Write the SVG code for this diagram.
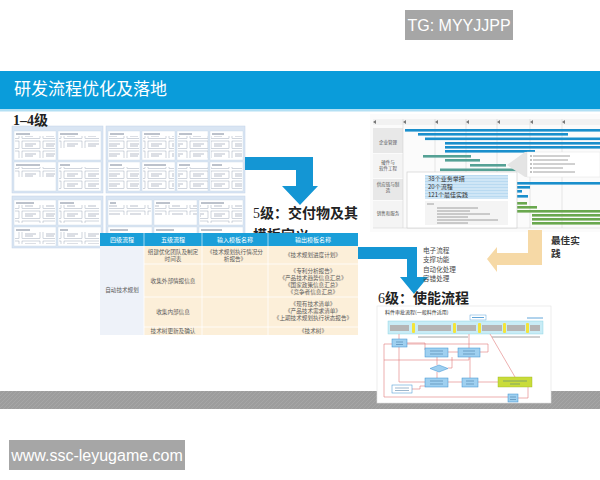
<svg xmlns="http://www.w3.org/2000/svg" width="600" height="480" viewBox="0 0 600 480">
<defs>
<style>
.cjk{font-family:"Noto Sans CJK SC","Noto Sans",sans-serif}
.tb{font-family:"Noto Sans CJK SC",sans-serif;font-size:5.6px;fill:#5a5a5a;text-anchor:middle}
.th{font-family:"Noto Sans CJK SC",sans-serif;font-size:6px;fill:#fff;text-anchor:middle}
.pn{fill:#d9e5f3;stroke:#c3d3e8;stroke-width:0.5}
.sp{fill:#fff;stroke:#c9d6e6;stroke-width:0.4}
.hd{stroke:#7a8598;stroke-width:1}
.bl{fill:#1a8fcc}
.tl{fill:#55a195}
.gr{fill:#6aa84f}
.fb{fill:#9fd0f0;stroke:#3a8fd0;stroke-width:0.5}
.rl{fill:none;stroke:#e07a7a;stroke-width:0.6}
.gl{stroke:#c8c8c8;stroke-width:0.4}
.tx{stroke:#8a8a8a;stroke-width:0.8}
.step{fill:#b5b5b5}
.ya{fill:#f3e43a}
.wm{fill:#a6a6a6}
.wmt{font-family:"Liberation Sans",Arial,sans-serif;font-size:16px;fill:#fff}
.arr{fill:#1496d4}
</style>
<pattern id="mini" x="0" y="0" width="21" height="10" patternUnits="userSpaceOnUse">
<rect x="1" y="1" width="18" height="7.5" fill="#fff" stroke="#8996aa" stroke-width="0.4"/>
<line x1="4" y1="4" x2="15" y2="4" stroke="#9aa4b4" stroke-width="0.7"/>
<line x1="4" y1="6" x2="12" y2="6" stroke="#9aa4b4" stroke-width="0.7"/>
</pattern>
<pattern id="hatch" width="3" height="3" patternUnits="userSpaceOnUse">
<rect width="3" height="3" fill="#cfe6f6"/>
<line x1="0" y1="1.5" x2="3" y2="1.5" stroke="#a9d2ee" stroke-width="0.6"/>
</pattern>
<pattern id="grain" width="4" height="4" patternUnits="userSpaceOnUse">
<rect width="4" height="4" fill="#9d9d9d"/>
<line x1="0" y1="4" x2="4" y2="0" stroke="#a8a8a8" stroke-width="0.8"/>
</pattern>
</defs>

<rect width="600" height="480" fill="#fff"/>

<!-- watermark top -->
<g id="wm-top">
<rect class="wm" x="405" y="10" width="108" height="30"/>
<text class="wmt" x="459" y="31" text-anchor="middle">TG: MYYJJPP</text>
</g>

<!-- title bar -->
<g id="title">
<rect x="0" y="71" width="600" height="38" fill="#0a9cda"/>
<rect x="0" y="109" width="600" height="2.5" fill="#b3e0f4"/>
<text class="cjk" x="14" y="95" font-size="17" fill="#fff">研发流程优化及落地</text>
</g>

<!-- 1-4 level -->
<g id="level14">
<rect class="pn" x="12" y="126" width="91" height="67"/>
<rect class="pn" x="106" y="126" width="139" height="67"/>
<rect class="pn" x="12" y="196" width="91" height="52"/>
<rect class="pn" x="106" y="196" width="139" height="52"/>
<text x="13" y="125" font-family="'Liberation Serif','Noto Sans CJK SC',serif" font-size="14" font-weight="bold" fill="#222">1–4<tspan font-family="'Noto Sans CJK SC',sans-serif">级</tspan></text>
<g>
<rect class="sp" x="14" y="131" width="42" height="29"/><line class="hd" x1="16" y1="134" x2="30" y2="134"/><rect x="15" y="136" width="40" height="22" fill="url(#mini)"/>
<rect class="sp" x="58" y="131" width="43" height="29"/><line class="hd" x1="60" y1="134" x2="78" y2="134"/><rect x="59" y="136" width="40" height="12" fill="url(#mini)"/>
<rect class="sp" x="14" y="162" width="42" height="29"/><line class="hd" x1="16" y1="165" x2="40" y2="165"/><rect x="15" y="167" width="40" height="10" fill="url(#mini)"/>
<rect class="sp" x="58" y="162" width="43" height="29"/><line class="hd" x1="60" y1="165" x2="70" y2="165"/><rect x="59" y="167" width="40" height="22" fill="url(#mini)"/>

<rect class="sp" x="108" y="131" width="32" height="29"/><line class="hd" x1="110" y1="134" x2="124" y2="134"/><rect x="109" y="136" width="30" height="22" fill="url(#mini)"/>
<rect class="sp" x="142" y="131" width="33" height="29"/><line class="hd" x1="144" y1="134" x2="160" y2="134"/><rect x="143" y="136" width="31" height="22" fill="url(#mini)"/>
<rect class="sp" x="177" y="131" width="31" height="29"/><line class="hd" x1="179" y1="134" x2="192" y2="134"/><rect x="178" y="136" width="30" height="22" fill="url(#mini)"/>
<rect class="sp" x="210" y="131" width="33" height="29"/><line class="hd" x1="212" y1="134" x2="224" y2="134"/><rect x="211" y="136" width="31" height="22" fill="url(#mini)"/>
<rect class="sp" x="108" y="162" width="32" height="29"/><line class="hd" x1="110" y1="165" x2="122" y2="165"/><rect x="109" y="167" width="30" height="22" fill="url(#mini)"/>
<rect class="sp" x="142" y="162" width="33" height="29"/><line class="hd" x1="144" y1="165" x2="166" y2="165"/><rect x="143" y="167" width="31" height="22" fill="url(#mini)"/>
<rect class="sp" x="177" y="162" width="31" height="29"/><line class="hd" x1="179" y1="165" x2="190" y2="165"/><rect x="178" y="167" width="30" height="22" fill="url(#mini)"/>
<rect class="sp" x="210" y="162" width="33" height="29"/><line class="hd" x1="212" y1="165" x2="222" y2="165"/><rect x="211" y="167" width="31" height="22" fill="url(#mini)"/>

<rect class="sp" x="14" y="200" width="42" height="25"/><line class="hd" x1="16" y1="203" x2="34" y2="203"/><rect x="15" y="205" width="40" height="18" fill="url(#mini)"/>
<rect class="sp" x="58" y="200" width="43" height="25"/><line class="hd" x1="60" y1="203" x2="74" y2="203"/><rect x="59" y="205" width="40" height="18" fill="url(#mini)"/>
<rect class="sp" x="14" y="227" width="42" height="19"/><line class="hd" x1="16" y1="230" x2="30" y2="230"/><rect x="15" y="232" width="40" height="12" fill="url(#mini)"/>
<rect class="sp" x="58" y="227" width="43" height="19"/><line class="hd" x1="60" y1="230" x2="68" y2="230"/><rect x="59" y="232" width="40" height="12" fill="url(#mini)"/>
<rect class="sp" x="108" y="200" width="44" height="25"/><line class="hd" x1="110" y1="203" x2="116" y2="203"/><rect x="109" y="205" width="42" height="10" fill="url(#mini)"/>
<rect class="sp" x="154" y="200" width="43" height="25"/><line class="hd" x1="156" y1="203" x2="170" y2="203"/><rect x="155" y="205" width="42" height="10" fill="url(#mini)"/>
<rect class="sp" x="199" y="200" width="44" height="25"/><line class="hd" x1="201" y1="203" x2="224" y2="203"/><rect x="200" y="205" width="42" height="18" fill="url(#mini)"/>
<rect class="sp" x="108" y="227" width="44" height="19"/><line class="hd" x1="110" y1="230" x2="128" y2="230"/>
<rect class="sp" x="154" y="227" width="43" height="19"/><line class="hd" x1="156" y1="230" x2="174" y2="230"/>
<rect class="sp" x="199" y="227" width="44" height="19"/><line class="hd" x1="201" y1="230" x2="222" y2="230"/>
</g>
</g>

<!-- arrow 1 -->
<g id="arrow1">
<path class="arr" d="M245,157 H313 V186 H318 L300,205 L282,186 H296 V170 H245 Z"/>
</g>

<!-- level 5 -->
<g id="level5">
<text class="cjk" font-size="14" font-weight="bold" fill="#222"><tspan x="253" y="218"><tspan font-family="'Liberation Serif',serif" font-weight="normal">5</tspan>级：交付物及其</tspan><tspan x="253" y="240">模板定义</tspan></text>
</g>

<!-- table -->
<g id="table">
<rect x="100" y="233" width="258" height="13" fill="#1a9fd9"/>
<line x1="144" y1="233" x2="144" y2="246" stroke="#fff" stroke-width="0.6"/>
<line x1="202" y1="233" x2="202" y2="246" stroke="#fff" stroke-width="0.6"/>
<line x1="268" y1="233" x2="268" y2="246" stroke="#fff" stroke-width="0.6"/>
<text class="th" x="122" y="242">四级流程</text>
<text class="th" x="173" y="242">五级流程</text>
<text class="th" x="235" y="242">输入模板名称</text>
<text class="th" x="313" y="242">输出模板名称</text>
<rect x="100" y="246" width="44" height="89" fill="#eef2f9"/>
<rect x="144" y="246" width="214" height="89" fill="#fcefd9"/>
<g stroke="#fff" stroke-width="0.8">
<line x1="144" y1="246" x2="144" y2="335"/>
<line x1="202" y1="246" x2="202" y2="335"/>
<line x1="268" y1="246" x2="268" y2="335"/>
<line x1="144" y1="264" x2="358" y2="264"/>
<line x1="144" y1="297" x2="358" y2="297"/>
<line x1="144" y1="327" x2="358" y2="327"/>
</g>
<text class="tb" x="122" y="292">自动技术规划</text>
<text class="tb" x="173" y="254">组建优化团队及制定</text>
<text class="tb" x="173" y="261">时间表</text>
<text class="tb" x="235" y="254">《技术规划执行情况分</text>
<text class="tb" x="235" y="261">析报告》</text>
<text class="tb" x="313" y="257">《技术规划进度计划》</text>
<text class="tb" x="173" y="283">收集外部情报信息</text>
<text class="tb" x="313" y="273">《专利分析报告》</text>
<text class="tb" x="313" y="280">《产品技术趋势信息汇总》</text>
<text class="tb" x="313" y="287">《国家政策信息汇总》</text>
<text class="tb" x="313" y="294">《竞争者信息汇总》</text>
<text class="tb" x="173" y="314">收集内部信息</text>
<text class="tb" x="313" y="306">《现有技术清单》</text>
<text class="tb" x="313" y="313">《产品技术需求清单》</text>
<text class="tb" x="313" y="320">《上期技术规划执行状态报告》</text>
<text class="tb" x="173" y="333">技术树更新及确认</text>
<text class="tb" x="313" y="333">《技术树》</text>
</g>

<!-- arrow 2 -->
<g id="arrow2">
<path class="arr" d="M358,247 H417 V277 H428 L414,294 L400,277 H407 V259 H358 Z"/>
<text class="cjk" font-size="6.6" fill="#4a4a4a"><tspan x="423" y="252.5">电子流程</tspan><tspan x="423" y="262">支撑功能</tspan><tspan x="423" y="271.5">自动化处理</tspan><tspan x="423" y="281">容错处理</tspan></text>
</g>

<!-- gantt image -->
<g id="gantt">
<rect x="370" y="114" width="230" height="118" fill="#fbfbfb"/>
<rect x="373" y="119" width="227" height="6" fill="#f2f2f2"/>
<rect x="373" y="128" width="30" height="25" fill="#e8e8e8"/>
<rect x="373" y="154" width="30" height="24" fill="#f4f4f4"/>
<rect x="373" y="179" width="30" height="21" fill="#e8e8e8"/>
<rect x="373" y="201" width="30" height="27" fill="#f4f4f4"/>
<g class="gl">
<line x1="403" y1="119" x2="403" y2="228"/><line x1="435" y1="119" x2="435" y2="228"/>
<line x1="466" y1="119" x2="466" y2="228"/><line x1="497" y1="119" x2="497" y2="228"/>
<line x1="530" y1="119" x2="530" y2="228"/><line x1="562" y1="119" x2="562" y2="228"/>
<line x1="373" y1="228" x2="600" y2="228"/>
</g>
<g fill="#777"><path d="M373,122 l3,-2 v4z"/><path d="M403,122 l3,-2 v4z"/><path d="M435,122 l3,-2 v4z"/><path d="M466,122 l3,-2 v4z"/><path d="M497,122 l3,-2 v4z"/><path d="M530,122 l3,-2 v4z"/><path d="M562,122 l3,-2 v4z"/></g>
<g class="cjk" font-size="4.5" fill="#555" text-anchor="middle">
<text x="388" y="144">企业管理</text>
<text x="388" y="164">硬件与</text><text x="388" y="170">软件工程</text>
<text x="388" y="186">供应链与制</text><text x="388" y="192">造</text>
<text x="388" y="215">销售和服务</text>
</g>
<rect class="bl" x="405" y="129" width="195" height="2.6"/>
<rect class="bl" x="418" y="133" width="150" height="2.6"/>
<rect class="bl" x="425" y="137.5" width="175" height="2.6"/>
<rect class="bl" x="445" y="142" width="155" height="2.6"/>
<rect class="bl" x="445" y="146" width="155" height="2.6"/>
<rect class="bl" x="445" y="150" width="90" height="2.6"/>
<rect class="tl" x="423" y="155" width="48" height="2.6"/>
<rect class="tl" x="445" y="159" width="35" height="2.6"/>
<rect class="tl" x="470" y="164" width="36" height="2.6"/>
<rect class="tl" x="440" y="168.5" width="80" height="2.6"/>
<rect class="bl" x="508" y="182" width="92" height="2.6"/>
<rect class="bl" x="508" y="186" width="22" height="2.6"/>
<rect class="bl" x="508" y="190" width="14" height="2.6"/>
<rect class="bl" x="508" y="195" width="20" height="2.6"/>
<rect class="gr" x="517" y="202" width="10" height="2.6"/>
<rect class="gr" x="517" y="206" width="20" height="2.6"/>
<rect class="gr" x="517" y="210" width="83" height="2.6"/>
<rect class="gr" x="532" y="214" width="68" height="2.6"/>
<rect class="gr" x="532" y="218" width="68" height="2.6"/>
<rect class="gr" x="532" y="222" width="68" height="2.6"/>
<!-- callout -->
<path d="M507,165 L525,152 H600 V177 H525 Z" fill="#e4e4e4"/>
<rect x="527" y="152" width="73" height="25" fill="#fff" stroke="#ddd" stroke-width="0.4"/>
<g fill="#555"><circle cx="531" cy="156" r="0.7"/><circle cx="531" cy="160" r="0.7"/><circle cx="531" cy="164" r="0.7"/><circle cx="531" cy="168" r="0.7"/><circle cx="531" cy="172" r="0.7"/></g>
<g class="tx" stroke-width="0.6"><line x1="533" y1="156" x2="570" y2="156"/><line x1="533" y1="160" x2="568" y2="160"/><line x1="533" y1="164" x2="575" y2="164"/><line x1="533" y1="168" x2="563" y2="168"/><line x1="533" y1="172" x2="575" y2="172"/></g>
<!-- popup -->
<rect x="407" y="172" width="110" height="56" fill="#fff" stroke="#c9c9c9" stroke-width="0.6"/>
<rect x="425" y="175" width="83" height="24" fill="url(#hatch)"/>
<text class="cjk" font-size="6" fill="#333"><tspan x="428" y="181">38个业务举措</tspan><tspan x="428" y="189">20个流程</tspan><tspan x="428" y="197">121个最佳实践</tspan></text>
<rect x="425" y="201" width="83" height="24" fill="#f4f4f4"/>
<line class="tx" x1="427" y1="204" x2="434" y2="204"/>
<g class="tx" stroke-width="0.6"><line x1="437" y1="208" x2="478" y2="208"/><line x1="437" y1="211" x2="470" y2="211"/><line x1="437" y1="214" x2="490" y2="214"/><line x1="437" y1="217" x2="468" y2="217"/><line x1="437" y1="220" x2="498" y2="220"/><line x1="437" y1="223" x2="468" y2="223"/></g>
</g>

<!-- best practice arrow -->
<g id="best">
<path d="M528,230 H542 V265 H497 V272 L487,259 L497,247 V253 H528 Z" fill="#f6d9a6"/>
<text class="cjk" font-size="9.6" font-weight="bold" fill="#333"><tspan x="551" y="243.5">最佳实</tspan><tspan x="551" y="256.5">践</tspan></text>
</g>

<!-- bottom strip -->
<rect x="0" y="391" width="600" height="18" fill="url(#grain)"/>
<text x="507" y="403" font-family="'Liberation Sans',sans-serif" font-size="4.5" fill="#fff">30</text>

<!-- level 6 -->
<g id="level6">
<text class="cjk" x="378" y="303" font-size="14" font-weight="bold" fill="#222"><tspan font-family="'Liberation Serif',serif" font-weight="normal">6</tspan>级：使能流程</text>
<rect x="377" y="306" width="174" height="97" fill="#fff" stroke="#e2e2e2" stroke-width="0.6"/>
<text class="cjk" x="385" y="314" font-size="5" fill="#333">料件审批流程(一般料件适用)</text>
<rect x="470" y="315" width="16" height="5" fill="none" stroke="#3a8fd0" stroke-width="0.4"/>
<line x1="472" y1="317.5" x2="484" y2="317.5" stroke="#3a8fd0" stroke-width="0.8"/>
<line x1="527" y1="318" x2="543" y2="318" stroke="#3a8fd0" stroke-width="0.8"/>
<rect x="388" y="321" width="155" height="13" fill="#c9ecf6" stroke="#7fcfe0" stroke-width="0.4"/>
<rect class="step" x="390" y="325" width="19" height="6"/>
<rect class="step" x="418" y="325" width="33" height="6"/>
<rect class="step" x="457" y="325" width="19" height="6"/>
<rect class="step" x="482" y="325" width="20" height="6"/>
<rect class="step" x="507" y="325" width="18" height="6"/>
<rect class="step" x="530" y="325" width="10" height="6"/>
<g class="ya"><rect x="412" y="323" width="3" height="10" rx="1"/><rect x="453" y="323" width="3" height="10" rx="1"/><rect x="478" y="323" width="3" height="10" rx="1"/><rect x="503" y="323" width="3" height="10" rx="1"/><rect x="526" y="323" width="3" height="10" rx="1"/></g>
<g class="tx" stroke-width="0.5"><line x1="418" y1="337" x2="468" y2="337"/><line x1="492" y1="337" x2="540" y2="337"/></g>
<g class="rl">
<path d="M399,334 V340"/>
<path d="M407,343 H425 V350"/>
<path d="M448,352 H458"/>
<path d="M480,352 H488 V344 H407"/>
<path d="M469,348 V334"/>
<path d="M392,344 H384 V360 H469 V357"/>
<path d="M437,357 V365"/>
<path d="M437,372 V378"/>
<path d="M448,382 H462"/>
<path d="M478,382 H498"/>
<path d="M425,382 H399 V347"/>
<path d="M412,389 H420 V386 H425"/>
<path d="M384,360 V397 H508"/>
<path d="M490,334 L515,377"/>
<path d="M448,368 H452 V357"/>
<path d="M470,378 V357"/>
<path d="M517,398 H528 V387"/>
</g>
<rect class="fb" x="392" y="339" width="15" height="8"/>
<rect class="fb" x="425" y="348" width="23" height="9"/>
<rect class="fb" x="458" y="348" width="22" height="9"/>
<path d="M430,368.5 L439,365 L448,368.5 L439,372 Z" fill="#9fd0f0" stroke="#3a8fd0" stroke-width="0.5"/>
<rect class="fb" x="425" y="378" width="23" height="9"/>
<rect class="fb" x="462" y="378" width="16" height="9"/>
<rect x="498" y="377" width="34" height="10" fill="#c9dc3a" stroke="#9ab21e" stroke-width="0.4"/>
<rect x="392" y="385" width="20" height="8" fill="#fff" stroke="#3a8fd0" stroke-width="0.5"/>
<rect class="fb" x="508" y="394" width="10" height="8"/>
<g stroke="#3b6f9a" stroke-width="0.5">
<line x1="396" y1="342" x2="403" y2="342"/><line x1="396" y1="344.5" x2="403" y2="344.5"/>
<line x1="430" y1="351" x2="443" y2="351"/><line x1="430" y1="354" x2="443" y2="354"/>
<line x1="463" y1="351" x2="475" y2="351"/><line x1="463" y1="354" x2="475" y2="354"/>
<line x1="430" y1="381" x2="443" y2="381"/><line x1="430" y1="384" x2="443" y2="384"/>
<line x1="466" y1="381" x2="474" y2="381"/><line x1="466" y1="384" x2="474" y2="384"/>
<line x1="503" y1="381" x2="527" y2="381"/><line x1="510" y1="384" x2="520" y2="384"/>
<line x1="395" y1="388" x2="409" y2="388"/><line x1="395" y1="390.5" x2="409" y2="390.5"/>
<line x1="510" y1="397" x2="516" y2="397"/><line x1="510" y1="399.5" x2="516" y2="399.5"/>
</g>
</g>

<!-- watermark bottom -->
<g id="wm-bottom">
<rect class="wm" x="9" y="440" width="176" height="30"/>
<text class="wmt" x="97" y="461" text-anchor="middle">www.ssc-leyugame.com</text>
</g>
</svg>
